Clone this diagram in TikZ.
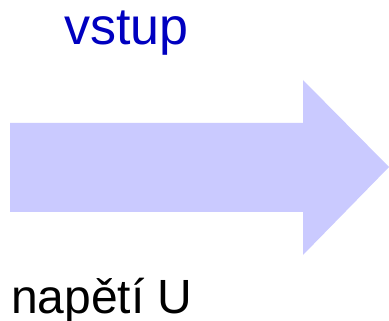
\documentclass[tikz,border=0pt]{standalone}
\usepackage{fontspec}
\setmainfont{Liberation Sans}
\definecolor{arrowfill}{HTML}{CACAFF}
\definecolor{labelblue}{HTML}{0000C0}
\begin{document}
\begin{tikzpicture}[x=1pt,y=-1pt,
  bigarrow/.style={fill=arrowfill,draw=none},
  caption/.style={anchor=base west,inner sep=0pt,font=\fontsize{48}{56}\selectfont}]
\useasboundingbox (0,0) rectangle (389,321);
% block arrow pointing right
\fill[bigarrow] (10,123) -- (303,123) -- (303,80) -- (389,167)
  -- (303,255) -- (303,212) -- (10,212) -- cycle;
% labels
\node[caption,text=labelblue,font=\fontsize{52}{60}\selectfont] (in) at (64,45) {vstup};
\node[caption] (u) at (11,313) {napětí U};
\end{tikzpicture}
\end{document}
